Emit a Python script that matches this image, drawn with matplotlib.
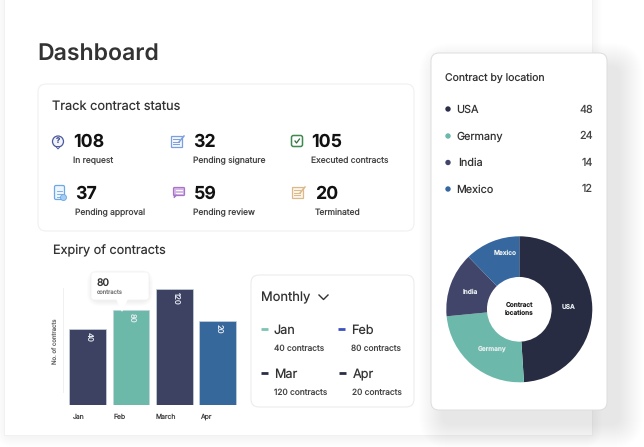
import matplotlib
matplotlib.use("Agg")
import matplotlib.pyplot as plt
from matplotlib.patches import FancyBboxPatch, Circle, Polygon, Rectangle

W, H = 644, 447

# data
status_values = ["108", "32", "105", "37", "59", "20"]
status_labels = ["In request", "Pending signature", "Executed contracts",
                 "Pending approval", "Pending review", "Terminated"]
months = ["Jan", "Feb", "March", "Apr"]
bar_heights = [76.5, 95, 116, 84]  # drawn heights, not in proportion to the printed labels
bar_labels = ["40", "80", "120", "20"]
bar_colors = ["#3d4263", "#6cb8a9", "#3d4263", "#36689c"]
legend_months = ["Jan", "Feb", "Mar", "Apr"]
legend_counts = ["40 contracts", "80 contracts", "120 contracts", "20 contracts"]
legend_colors = ["#7cc4b3", "#3d50c0", "#2b2e45", "#2b2e45"]
locations = ["USA", "Germany", "India", "Mexico"]
location_values = [48, 24, 14, 12]
location_colors = ["#272c42", "#6cb9ab", "#41456a", "#36689f"]
dot_colors = ["#2c2f4c", "#6cb9ab", "#41456a", "#36689f"]

plt.rcParams["font.family"] = ["Inter", "DejaVu Sans"]
plt.rcParams["text.hinting"] = "no_hinting"

fig = plt.figure(figsize=(W / 100, H / 100), dpi=100, facecolor="white")


def px_axes(x0, y0, x1, y1, zorder):
    # axes from pixel box, y counted from the top
    return fig.add_axes([x0 / W, 1 - y1 / H, (x1 - x0) / W, (y1 - y0) / H], zorder=zorder)


def card(ax, x0, y0, x1, y1, r=8, fc="white", ec="#eeeeee", lw=0.8, z=2):
    ax.add_patch(FancyBboxPatch((x0 + r, y0 + r), x1 - x0 - 2 * r, y1 - y0 - 2 * r,
                                boxstyle=f"round,pad={r},rounding_size={r}",
                                fc=fc, ec=ec, lw=lw, zorder=z))


def shadow(ax, x0, y0, x1, y1, spread, alpha, z, dx=0, dy=0):
    for i in range(spread, 0, -1):
        card(ax, x0 - i + dx, y0 - i + dy, x1 + i + dx, y1 + i + dy, r=8 + i,
             fc=(0, 0, 0, alpha), ec="none", lw=0, z=z)


bg = px_axes(0, 0, W, H, 0)
bg.set_xlim(0, W)
bg.set_ylim(H, 0)
bg.axis("off")

# main sheet
shadow(bg, 6, -20, 592, 435, 10, 0.004, 1, dy=2)
bg.add_patch(Rectangle((4, -5), 588, 440, fc="white", ec="#f1f1f1", lw=0.7, zorder=2))

bg.text(37.5, 61, "Dashboard", fontsize=16.6, fontweight="semibold", color="#333333", va="baseline")

# status card
card(bg, 38, 84, 414, 231, r=8, ec="#f0f0f0")
bg.text(52, 106.5, "Track contract status", fontsize=9.2, color="#333333", va="center")

value_x = [73, 193.5, 311.5, 75.5, 193.5, 315]
value_y = [146.7, 146.7, 146.7, 199, 199, 199]
label_y = [161, 161, 161, 213, 213, 213]
for v, lab, x, y, ly in zip(status_values, status_labels, value_x, value_y, label_y):
    bg.text(x, y, v, fontsize=12.8, fontweight="bold", color="#111111", va="baseline")
    bg.text(x, ly, lab, fontsize=6.1, color="#444444", va="center")

# icons
bg.add_patch(Circle((58, 141.5), 5.5, fc="#f3f4fb", ec="#4a5a9e", lw=0.9, zorder=3))
bg.add_patch(Polygon([[56, 146.5], [60, 146.5], [58, 149]], fc="#f3f4fb", ec="#4a5a9e", lw=0.7, zorder=3))
bg.text(58, 141.5, "?", fontsize=5.5, color="#3d4a8c", fontweight="bold", ha="center", va="center", zorder=4)


def note_icon(x, y, col, fill):
    bg.add_patch(Rectangle((x - 6, y - 5), 11, 11, fc=fill, ec=col, lw=0.9, zorder=3))
    for k in (-2, 0.5, 3):
        bg.plot([x - 4, x + 2], [y + k, y + k], color=col, lw=0.7, zorder=4)
    bg.plot([x + 2, x + 7], [y + 1, y - 5], color=col, lw=1.1, zorder=4)


note_icon(177, 141, "#7c9fe0", "#f3f6fd")
note_icon(298, 192, "#dcb98a", "#fbf4ea")
bg.add_patch(FancyBboxPatch((293, 137), 8, 8, boxstyle="round,pad=1.5,rounding_size=2",
                            fc="white", ec="#3f8a4f", lw=1.1, zorder=3))
bg.plot([295, 296.5, 299.5], [141, 143, 139], color="#2f6b3e", lw=0.9, zorder=4)
bg.add_patch(FancyBboxPatch((55, 186), 9, 13, boxstyle="round,pad=0.5,rounding_size=1.5",
                            fc="#eef5fd", ec="#6aa8e6", lw=0.9, zorder=3))
for k in (191, 194, 197):
    bg.plot([57, 62], [k, k], color="#6aa8e6", lw=0.6, zorder=4)
bg.add_patch(Circle((63.5, 197.5), 3, fc="#a5cdf2", ec="#6aa8e6", lw=0.6, zorder=5))
bg.add_patch(FancyBboxPatch((174, 188), 10, 7, boxstyle="round,pad=0.5,rounding_size=1",
                            fc="#d6b6e6", ec="#a774c8", lw=0.9, zorder=3))
bg.add_patch(Polygon([[174, 195], [177, 195], [174, 198]], fc="#a774c8", ec="#a774c8", lw=0.5, zorder=3))
for k in (190, 193):
    bg.plot([176, 182], [k, k], color="white", lw=0.7, zorder=4)

# bars
bg.text(53, 251, "Expiry of contracts", fontsize=9.1, color="#333333", va="center")
bg.plot([63.5, 63.5], [288, 392], color="#f0f0f0", lw=0.7, zorder=3)
bg.text(55.5, 341, "No. of contracts", fontsize=4.3, color="#666666", rotation=90, ha="center", va="center", zorder=3)

ax = px_axes(66, 289, 239.3, 405, 3)
ax.patch.set_alpha(0)
ax.set_xlim(-0.5, 3.5)
ax.set_ylim(0, 116)
ax.axis("off")
ax.bar(range(4), bar_heights, width=0.846, color=bar_colors, edgecolor="#c5d3dd", linewidth=0.5)
for i, (h, lab) in enumerate(zip(bar_heights, bar_labels)):
    ax.text(i + 0.03, h - 3, lab, rotation=270, fontsize=5.6, color="#e8edf2", ha="center", va="top")

month_x = [73, 114, 156, 200]
for m, x in zip(months, month_x):
    bg.text(x, 416.5, m, fontsize=4.9, color="#444444", va="center", zorder=3)

# monthly card
card(bg, 251, 275, 414, 407, r=8, ec="#ececec")
bg.text(261.5, 298, "Monthly", fontsize=9.3, color="#333333", va="center")
bg.plot([319, 323.5, 328], [295, 299.5, 295], color="#333333", lw=1.0, zorder=3)
dash_x = [261, 338.5, 261, 339.5]
text_x = [274, 351.5, 274, 352.5]
row_y = [330.5, 330.5, 374.5, 374.5]
sub_y = [349, 349, 393, 393]
for m, c, col, dx, tx, ry, sy in zip(legend_months, legend_counts, legend_colors, dash_x, text_x, row_y, sub_y):
    bg.plot([dx, dx + 7], [ry - 1.5, ry - 1.5], color=col, lw=2, solid_capstyle="butt", zorder=3)
    bg.text(tx, ry, m, fontsize=9.1, color="#333333", va="center", zorder=3)
    bg.text(tx, sy, c, fontsize=6, color="#444444", va="center", zorder=3)

# location card, on top of everything else
top = px_axes(0, 0, W, H, 4)
top.patch.set_alpha(0)
top.set_xlim(0, W)
top.set_ylim(H, 0)
top.axis("off")

# tooltip
shadow(top, 92, 273, 148, 299, 5, 0.012, 1, dy=2)
card(top, 91, 272, 149, 300, r=3, ec="#f0f0f0", lw=0.5, z=2)
top.add_patch(Polygon([[116, 299], [128, 299], [122, 312]], fc="white", ec="none", zorder=3))
top.text(97, 283, "80", fontsize=7.4, fontweight="medium", color="#333333", va="center", zorder=4)
top.text(97, 292, "contracts", fontsize=4.2, color="#777777", va="center", zorder=4)

shadow(top, 431, 53, 607, 410, 24, 0.0032, 5, dx=12, dy=14)
card(top, 431, 53, 607, 410, r=8, ec="#dddddd", lw=0.7, z=6)
top.text(445.5, 77.5, "Contract by location", fontsize=7.5, color="#333333", va="center", zorder=7)
loc_y = [109, 136, 162.5, 189]
loc_x = [456.5, 456.5, 458, 456.5]
for name, val, col, x, y in zip(locations, location_values, dot_colors, loc_x, loc_y):
    top.add_patch(Circle((448, y), 2.7, fc=col, ec="none", zorder=7))
    top.text(x, y + 0.5, name, fontsize=7.8, color="#333333", va="center", zorder=7)
    top.text(593, y + 0.5, str(val), fontsize=7.8, color="#444444", ha="right", va="center", zorder=7)

# donut
pie_ax = px_axes(446.3, 236.3, 592.3, 382.3, 5)
pie_ax.pie(location_values, colors=location_colors, startangle=90, counterclock=False,
           radius=1.0, wedgeprops={"width": 0.557, "linewidth": 0})
pie_ax.set_xlim(-1, 1)
pie_ax.set_ylim(-1, 1)

text_ax = px_axes(0, 0, W, H, 6)
text_ax.patch.set_alpha(0)
text_ax.set_xlim(0, W)
text_ax.set_ylim(H, 0)
text_ax.axis("off")
pie_label_xy = [(569, 307.5), (492.5, 348.5), (470, 292.5), (505, 253.5)]
for name, (x, y) in zip(locations, pie_label_xy):
    text_ax.text(x, y, name, fontsize=4.7, fontweight="semibold", color="#e8eef0", ha="center", va="center")
text_ax.text(519.5, 305, "Contract", fontsize=4.7, fontweight="semibold", color="#222222", ha="center", va="center")
text_ax.text(519.5, 313, "locations", fontsize=4.7, fontweight="semibold", color="#222222", ha="center", va="center")

fig.savefig("out.png", dpi=100, facecolor="white")
